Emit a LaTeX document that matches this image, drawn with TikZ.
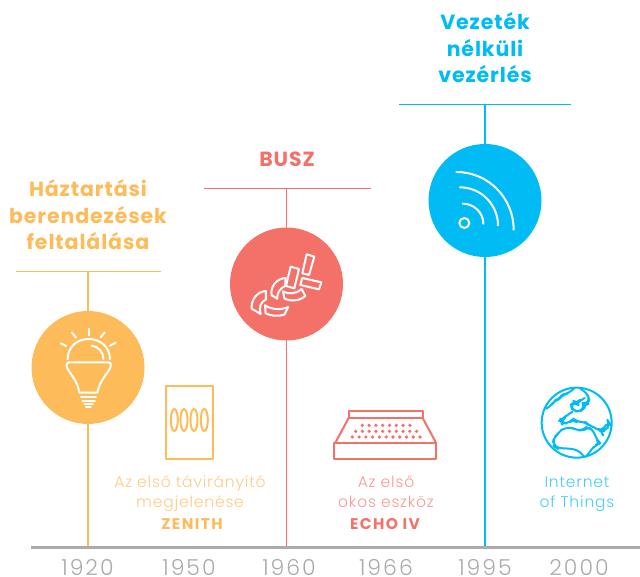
\documentclass[tikz,border=0pt]{standalone}
\usepackage{fontspec}
\setmainfont{Poppins}[UprightFont=*-Light,BoldFont=*-Bold]
\usetikzlibrary{calc}
\definecolor{org}{HTML}{FDBB59}
\definecolor{orgl}{HTML}{FECB85}
\definecolor{rd}{HTML}{F4716A}
\definecolor{rdl}{HTML}{F89A94}
\definecolor{bl}{HTML}{00BBF4}
\definecolor{bll}{HTML}{45CDF7}
\definecolor{gr}{HTML}{ABABAB}
\tikzset{
  x=1pt,y=-1pt,
  disc/.style={circle,inner sep=0pt,minimum size=113pt,fill=#1},
  stem/.style={draw=#1,line width=1.5pt},
  bar/.style={draw=#1,line width=1.1pt},
  title/.style={anchor=base,inner sep=0pt,text=#1,font=\fontsize{20.5}{22}\selectfont\bfseries\addfontfeatures{LetterSpace=4.4}},
  sub/.style={anchor=base,inner sep=0pt,text=#1,font=\fontsize{15.5}{17}\selectfont\addfontfeatures{LetterSpace=5.4}},
  subb/.style={anchor=base,inner sep=0pt,text=#1,font=\fontsize{15.5}{17}\selectfont\bfseries\addfontfeatures{LetterSpace=9}},
  year/.style={anchor=base,inner sep=0pt,text=gr,font=\fontsize{22}{24}\selectfont\addfontfeatures{LetterSpace=9}},
  iconw/.style={draw=white,line width=2pt,line cap=round,line join=round},
  icono/.style={draw=org,line width=2pt,line join=round},
  iconr/.style={draw=rd,line width=2pt,line join=round},
  iconb/.style={draw=bl,line width=2pt,line join=round,line cap=round},
}
\begin{document}
\begin{tikzpicture}
\useasboundingbox (0,0) rectangle (640,577);
% axis
\coordinate (axL) at (31,547.5);
\coordinate (axR) at (640,547.5);
\coordinate (a1) at (88,547.5);
\coordinate (a2) at (286.8,547.5);
\coordinate (a3) at (485,547.5);
% bars
\coordinate (b1L) at (16,271.5); \coordinate (b1R) at (161,271.5); \coordinate (b1) at (88,271.5);
\coordinate (b2L) at (204,188.3); \coordinate (b2R) at (371,188.3); \coordinate (b2) at (286.8,188.3);
\coordinate (b3L) at (399,104.5); \coordinate (b3R) at (571,104.5); \coordinate (b3) at (485,104.5);
\draw[bar=org] (b1L) -- (b1R);
\draw[bar=rd] (b2L) -- (b2R);
\draw[bar=bl] (b3L) -- (b3R);
\draw[stem=org,line width=1.6pt] (b1) -- (a1);
\draw[stem=rd,line width=1.2pt] (b2) -- (a2);
\draw[stem=bl,line width=1.5pt] (b3) -- (a3);
\draw[draw=gr,line width=2.6pt] (axL) -- (axR);
% discs
\node[disc=org] (c1) at (88,367.5) {};
\node[disc=rd] (c2) at (286.5,284) {};
\node[disc=bl] (c3) at (485,200.5) {};
% titles
\node[title=org] (t1a) at (88,197) {Háztartási};
\node[title=org] (t1b) at (88,224) {berendezések};
\node[title=org] (t1c) at (88,250) {feltalálása};
\node[title=rd] (t2) at (287,166.5) {BUSZ};
\node[title=bl] (t3a) at (485,30) {Vezeték};
\node[title=bl] (t3b) at (485,57) {nélküli};
\node[title=bl] (t3c) at (485,83) {vezérlés};
% captions
\node[sub=orgl] (s1a) at (190,487) {Az első távirányító};
\node[sub=orgl] (s1b) at (190,507.5) {megjelenése};
\node[subb=org] (s1c) at (192,529.5) {ZENITH};
\node[sub=rdl] (s2a) at (386,487) {Az első};
\node[sub=rdl] (s2b) at (386,507.5) {okos eszköz};
\node[subb=rd] (s2c) at (385,529.5) {ECHO IV};
\node[sub=bll] (s3a) at (577,487) {Internet};
\node[sub=bll] (s3b) at (577,507.5) {of Things};
% years
\node[year] (y1) at (87.5,575.5) {1920};
\node[year] (y2) at (189,575.5) {1950};
\node[year] (y3) at (289,575.5) {1960};
\node[year] (y4) at (386,575.5) {1966};
\node[year] (y5) at (485,575.5) {1995};
\node[year] (y6) at (579,575.5) {2000};
% bulb
\begin{scope}[shift={(20,300)},x=0.3333pt,y=-0.3333pt]
\draw[iconw] (143,178) .. controls (143,140) and (172,117) .. (206,117) .. controls (240,117) and (270,140) .. (270,178);
\draw[iconw] (215,137) .. controls (235,140) and (250,155) .. (250,177);
\draw[iconw] (148,187) -- (265,187) .. controls (274,187) and (274,197) .. (270,205)
  .. controls (262,222) and (240,240) .. (232,278) -- (178,278)
  .. controls (172,240) and (150,222) .. (142,205) .. controls (138,197) and (139,187) .. (148,187);
\draw[iconw] (183,291) -- (228,291);
\draw[iconw] (187,302) -- (225,302);
\draw[iconw] (193,312) -- (219,312);
\draw[iconw] (198,321) -- (212,321);
\draw[iconw] (122,130) -- (139,138);
\draw[iconw] (156,98) -- (168,113);
\draw[iconw] (206,86) -- (206,106);
\draw[iconw] (254,97) -- (242,112);
\draw[iconw] (287,128) -- (270,137);
\end{scope}
% zenith remote
\begin{scope}[shift={(20,300)},x=0.3333pt,y=-0.3333pt]
\draw[icono] (437,258) rectangle (580,478);
\foreach \xc in {463,492,522,553} \draw[icono] (\xc,360) ellipse [x radius=10.5,y radius=33];
\end{scope}
% bus
\begin{scope}[shift={(225,220)},x=0.3333pt,y=-0.3333pt]
\draw[iconw] (245,103) -- (268,110) -- (252,165) -- (232,160) -- cycle;
\draw[iconw] (197,140) -- (222,147) -- (208,205) -- (183,198) -- cycle;
\draw[iconw] (232,174) -- (289,187) -- (282,208) -- (226,195) -- cycle;
\draw[iconw] (123,213) .. controls (95,215) and (78,240) .. (80,266) -- (107,282) .. controls (100,262) and (108,245) .. (123,238) -- cycle;
\draw[iconw] (182,174) .. controls (155,175) and (135,200) .. (140,226) -- (157,236) .. controls (155,220) and (165,205) .. (180,198) -- cycle;
\draw[iconw] (174,214) .. controls (190,224) and (215,222) .. (230,207) -- (241,228) .. controls (222,245) and (192,244) .. (178,235) -- cycle;
\draw[iconw] (120,256) .. controls (140,270) and (170,270) .. (190,261) -- (178,284) .. controls (160,290) and (138,288) .. (122,280) -- cycle;
\end{scope}
% wifi
\begin{scope}[shift={(425,140)},x=0.3333pt,y=-0.3333pt]
\draw[iconw] (118,249) circle [radius=15];
\draw[iconw] (94,96) .. controls (190,96) and (266,174) .. (266,269);
\draw[iconw] (105,142) .. controls (168,142) and (219,194) .. (219,256);
\draw[iconw] (113,191) .. controls (147,191) and (175,218) .. (175,251);
\end{scope}
% echo
\begin{scope}[shift={(325,400)},x=0.3333pt,y=-0.3333pt]
\draw[iconr] (71,33) rectangle (293,54);
\draw[iconr] (71,54) -- (30,130);
\draw[iconr] (293,54) -- (334,130);
\draw[iconr] (28,130) rectangle (334,178);
\foreach \i in {0,...,7} \fill[rd] (112+\i*20.4,76) circle [radius=5.5];
\foreach \i in {0,...,9} \fill[rd] (92+\i*20.3,94) circle [radius=5.5];
\foreach \i in {0,...,10} \fill[rd] (82+\i*20.3,111) circle [radius=5.5];
\end{scope}
% globe
\begin{scope}[shift={(530,380)},x=0.3333pt,y=-0.3333pt]
\draw[iconb] (140,128) circle [radius=105];
\draw[iconb,rounded corners=5pt] (48,86) -- (62,80) -- (72,62) -- (88,58) -- (96,44) -- (112,42) -- (132,26);
\draw[iconb,rounded corners=5pt] (152,27) -- (172,40) -- (178,60) -- (172,72) -- (160,70) -- (163,84) -- (150,95) -- (128,93) -- (122,74) -- (134,66) -- (142,72) -- (150,60) -- (160,56);
\draw[iconb,rounded corners=5pt] (128,95) -- (110,106) -- (100,116) -- (92,120) -- (95,130) -- (115,130) -- (130,116) -- (140,126) -- (165,125) -- (176,136) -- (200,145) -- (214,155) -- (235,124) -- (240,132) -- (226,155) -- (208,150) -- (220,166);
\draw[iconb,rounded corners=5pt] (94,150) -- (120,140) -- (140,151) -- (160,151) -- (170,140) -- (190,150) -- (200,180) -- (212,190) -- (195,196) -- (182,212) -- (168,230);
\draw[iconb,rounded corners=5pt] (94,150) -- (86,160) -- (72,172) -- (68,192) -- (84,205) -- (115,205) -- (146,211) -- (163,231);
\draw[iconb] (70,198) -- (84,207);
\end{scope}
\end{tikzpicture}
\end{document}
